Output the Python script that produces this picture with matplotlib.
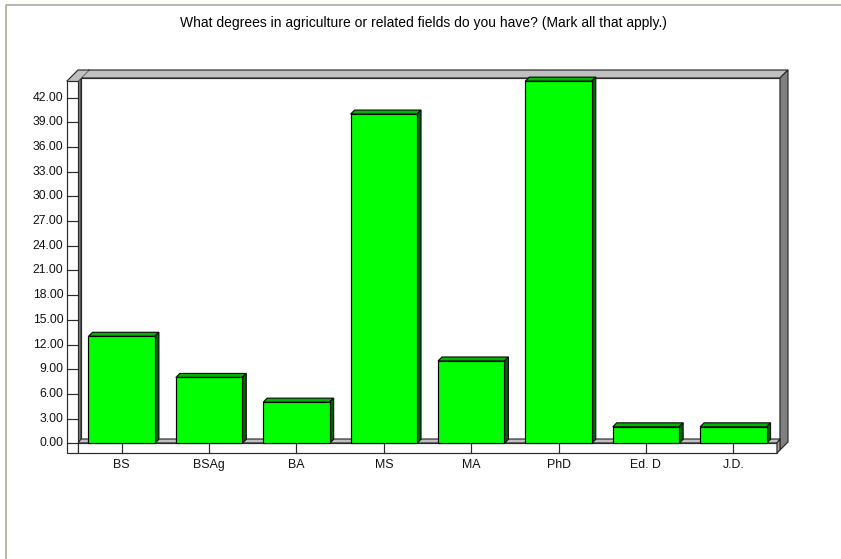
import matplotlib
matplotlib.use("Agg")
import matplotlib.pyplot as plt
from matplotlib.patches import Polygon
from matplotlib.transforms import Affine2D, IdentityTransform

categories = ["BS", "BSAg", "BA", "MS", "MA", "PhD", "Ed. D", "J.D."]
values = [13, 8, 5, 40, 10, 44, 2, 2]
y_ticks = [0, 3, 6, 9, 12, 15, 18, 21, 24, 27, 30, 33, 36, 39, 42]
title = "What degrees in agriculture or related fields do you have? (Mark all that apply.)"

W, H = 841, 559
plt.rcParams["font.family"] = ["Liberation Sans", "DejaVu Sans"]
fig = plt.figure(figsize=(W / 100, H / 100), dpi=100, facecolor="white")
px = Affine2D().scale(1, -1).translate(0, H)  # top-left pixel coordinates

L, R, T, B = 78, 777, 81, 443.3
ax = fig.add_axes([L / W, 1 - B / H, (R - L) / W, (B - T) / H])
ax.set_xlim(-0.5, 7.5)
ax.set_ylim(0, (B - T) / (345.7 / 42))
ax.axis("off")

EDGE = "#2A2A2A"
LW = 0.85
def poly(pts, fc, lw=LW, ec=EDGE, z=1):
    fig.add_artist(Polygon(pts, closed=True, facecolor=fc, edgecolor=ec, linewidth=lw,
                           transform=px, zorder=z, joinstyle="miter"))

# window border
fig.add_artist(plt.Line2D([5.5, 5.5, W], [H, 4.5, 4.5], color="#ACA899", lw=1.2, transform=px, zorder=0))

# walls: white back panel, grey top band, grey left and right bands, floor
poly([(81, 78), (780, 78), (780, 443), (81, 443)], "white", z=1)
poly([(78, 81), (89, 70), (788, 70), (780, 78), (81, 78)], "#C0C0C0", z=2)
poly([(78, 81), (81, 78), (81, 443), (78, 443)], "#808080", z=2)
poly([(780, 78), (788, 70), (788, 442), (780, 450)], "#808080", z=2)
poly([(78, 443), (81, 439), (780, 439), (777, 443)], "#C0C0C0", z=2)

# y axis strip and x axis strip
poly([(78, 81), (89, 70), (78, 70), (67, 81)], "#C0C0C0", lw=0, ec="none", z=2)
fig.add_artist(plt.Line2D([67, 78, 89], [81, 70, 70], color=EDGE, lw=LW, transform=px, zorder=2))
poly([(67, 81), (78, 81), (78, 453), (67, 453)], "white", z=3)
poly([(78, 443), (777, 443), (777, 453), (78, 453)], "white", z=3)
poly([(777, 443), (780, 439), (780, 450), (777, 453)], "#A0A0A0", z=3)

# y ticks
for v in y_ticks:
    y = ax.transData.transform((0, v))[1]
    yp = H - y
    fig.add_artist(plt.Line2D([67, 78], [yp, yp], color=EDGE, lw=LW, transform=px, zorder=4))
    fig.text(63.5 / W, y / H, f"{v:.2f}", ha="right", va="center", fontsize=8.7, color="#111111", zorder=5)

# x ticks and labels
for i, c in enumerate(categories):
    x = ax.transData.transform((i, 0))[0]
    fig.add_artist(plt.Line2D([x, x], [443, 453], color=EDGE, lw=LW, transform=px, zorder=4))
    fig.text(x / W, 1 - 465 / H, c, ha="center", va="center", fontsize=8.9, color="#111111", zorder=5)

# bars
bars = ax.bar(range(len(values)), values, width=0.76, color="#00FF00", edgecolor="black",
              linewidth=LW, zorder=8, clip_on=False)
ax.set_zorder(6)
d = 4
for b in bars:
    x0, y0 = ax.transData.transform((b.get_x(), 0))
    x1, y1 = ax.transData.transform((b.get_x() + b.get_width(), b.get_height()))
    ax.add_patch(Polygon([(x0, y1), (x0 + d, y1 + d), (x1 + d, y1 + d), (x1, y1)], closed=True,
                         facecolor="#00B400", edgecolor="#101010", lw=LW,
                         transform=IdentityTransform(), zorder=7, clip_on=False))
    ax.add_patch(Polygon([(x1, y0), (x1 + d, y0 + d), (x1 + d, y1 + d), (x1, y1)], closed=True,
                         facecolor="#006400", edgecolor="#101010", lw=LW,
                         transform=IdentityTransform(), zorder=7, clip_on=False))

fig.text(423.5 / W, 1 - 23 / H, title, ha="center", va="center", fontsize=10, color="black")
fig.savefig("out.png", dpi=100)
